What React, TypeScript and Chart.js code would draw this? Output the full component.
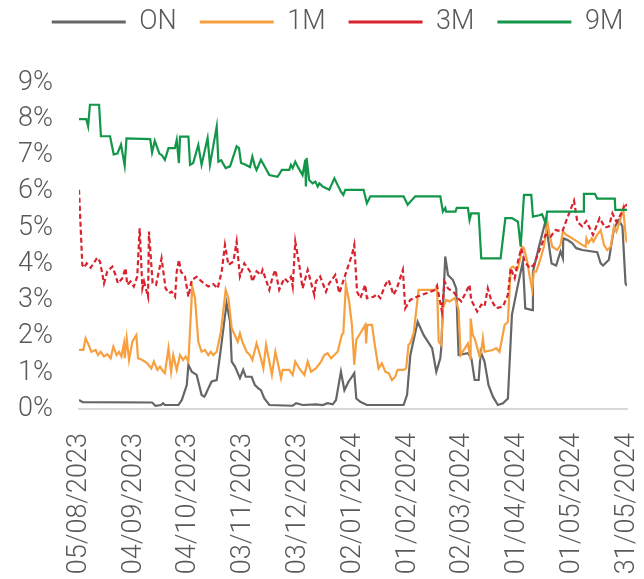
import React, { useEffect, useRef } from 'react';
import { Chart, registerables } from 'chart.js';

Chart.register(...registerables);

// x = days since 05/08/2023, y = rate in %
const TICK_LABELS = ['05/08/2023', '04/09/2023', '04/10/2023', '03/11/2023', '03/12/2023', '02/01/2024', '01/02/2024', '02/03/2024', '01/04/2024', '01/05/2024', '31/05/2024'];

const ON_POINTS: [number, number][] = [[0,0.25],[2,0.19],[40,0.18],[41.9,0.09],[44.9,0.11],[46,0.16],[47,0.11],[54.4,0.11],[56.3,0.25],[59,0.66],[59.9,1.22],[61.7,1.03],[64.4,0.94],[65.3,0.76],[67.1,0.39],[68.5,0.34],[69.2,0.39],[70.8,0.57],[72.6,0.76],[75.4,0.8],[77.7,1.68],[80.8,2.92],[82.7,2.41],[83.6,1.31],[85.4,1.17],[88.1,0.85],[89.9,1.08],[91.3,0.89],[94.5,0.89],[96.3,0.66],[98.2,0.57],[99.6,0.52],[101.4,0.3],[104.2,0.11],[117,0.09],[118.9,0.16],[122.4,0.11],[129.7,0.13],[133.4,0.11],[136.1,0.16],[138.9,0.13],[140.7,0.25],[142.1,0.66],[143.4,1.03],[145.3,0.52],[147.6,0.76],[149.4,0.89],[150.7,0.99],[151.8,0.29],[154,0.2],[157.6,0.11],[177.7,0.11],[179.6,0.39],[181.4,1.49],[185.4,2.41],[188.7,2.04],[193.3,1.68],[195.6,1.03],[197.8,1.4],[198.3,1.68],[200.5,4.21],[202,3.7],[204.7,3.56],[206.5,3.33],[207.8,1.49],[212.9,1.54],[214.8,1.4],[216.6,0.8],[218.8,0.8],[219.9,1.58],[222,1.31],[224.2,0.66],[226.6,0.34],[229.3,0.11],[232.1,0.16],[234.8,0.29],[237,2.6],[239.9,3.33],[243,4.07],[244.3,2.78],[248.1,2.73],[248.5,3.79],[249.6,4.02],[251.8,4.48],[255.4,5.19],[258.7,4.02],[261.2,3.96],[263.6,4.35],[264.9,4.16],[265.1,4.71],[267.3,4.67],[270,4.58],[272.2,4.44],[275.5,4.39],[283.7,4.33],[285.6,4.02],[286.9,3.96],[290.1,4.12],[292.9,4.99],[295.6,5.22],[297.5,5.04],[299.2,3.47],[300,3.4]];

const ONE_M_POINTS: [number, number][] = [[0,1.63],[2.4,1.63],[3.6,1.95],[4.9,1.81],[6.8,1.58],[9.1,1.63],[10.4,1.49],[11.9,1.58],[13.7,1.45],[15.5,1.51],[17.3,1.4],[18.8,1.72],[20.6,1.49],[21.9,1.58],[23.2,1.45],[24.6,1.81],[25,1.4],[26.1,1.95],[27.4,1.35],[29.2,1.86],[31.4,2.04],[32.3,1.4],[34.7,1.35],[37.4,1.26],[39.6,1.12],[41,1.31],[42.9,1.08],[44.3,1.17],[46.2,1.03],[47,0.99],[49,1.68],[50.4,1.03],[51.6,1.49],[53.5,1.08],[55.3,1.49],[57,1.35],[58.4,1.45],[59.9,1.31],[62,3.38],[63.5,3.06],[65.3,1.86],[67.1,1.58],[68.9,1.63],[70.8,1.49],[72.2,1.58],[73.5,1.49],[75.4,1.58],[77.7,2.14],[80.3,3.29],[81.8,3.06],[83.6,2.23],[86.9,1.86],[88.1,2.09],[89.4,1.86],[91.8,1.58],[93.6,1.49],[94.9,1.35],[97.2,1.81],[99.6,1.4],[100.9,1.12],[102.4,1.77],[104.2,1.31],[105.6,0.94],[107.5,1.58],[109.3,1.17],[110.6,0.85],[111.5,1.08],[115.1,1.08],[117,0.94],[118.4,1.31],[120.6,1.12],[123.4,0.94],[125.2,1.31],[127,1.03],[129.7,1.12],[132.5,1.31],[134.3,1.49],[136.1,1.54],[138,1.4],[139.8,1.49],[141.6,1.58],[144,2.06],[144.7,2.09],[146.1,3.43],[147.9,2.96],[149.4,2.32],[150.7,1.22],[151.8,1.91],[154,2.09],[156.7,2.32],[157.2,1.81],[157.8,2.32],[160.4,2.32],[162.2,1.68],[164,1.12],[165.8,1.26],[167.7,1.03],[169.5,0.99],[171.3,0.8],[173.1,0.89],[174.4,1.08],[177.7,1.08],[179.1,1.12],[180.4,1.77],[181.3,1.81],[183.2,2.09],[185.9,3.29],[195,3.29],[196,3.38],[196.9,1.86],[198.3,1.77],[199.2,2.78],[201,3.01],[202.9,2.97],[205.6,3.06],[206.5,2.97],[207.8,2.74],[208.9,1.49],[212.9,1.81],[214.2,1.4],[214.4,2.5],[215.6,2.04],[216.6,1.95],[219.3,1.45],[220.2,1.58],[221.1,1.95],[222,1.58],[226.6,1.63],[228.4,1.68],[230.2,1.58],[233,2.32],[234.8,2.41],[236.3,3.89],[237.5,3.93],[239.9,3.84],[241.2,4.07],[242.5,4.48],[243.6,4.44],[245.4,4.07],[246.7,3.66],[248.1,3.29],[249,3.79],[250.3,3.79],[252.7,4.16],[254.5,4.48],[256.4,5.17],[257.6,4.81],[259.1,4.48],[261.8,4.39],[263.6,4.53],[264.9,4.9],[266.7,4.81],[270,4.71],[272.8,4.62],[275.5,4.53],[277.4,4.48],[277.8,4.71],[278.9,4.58],[280.7,4.71],[281.6,4.62],[283.7,4.81],[285.6,4.94],[287.4,4.53],[289.2,4.39],[291.1,4.48],[292.9,5.04],[294.2,4.9],[296.1,5.17],[297.9,5.54],[299.4,4.71],[300,4.6]];

const THREE_M_POINTS: [number, number][] = [[0,6.05],[1.8,3.98],[2.7,3.9],[4.2,4.02],[6.4,3.9],[10,4.18],[11.5,4.07],[13.7,3.47],[15.5,3.8],[18.2,3.93],[20,3.7],[21.3,3.47],[23.6,3.6],[25.5,3.89],[26.4,3.43],[28.2,3.52],[30,3.38],[31.9,3.66],[33.2,4.99],[34.7,3.33],[35.6,3.52],[37.8,3.1],[38.3,4.9],[40.3,3.48],[42.2,3.43],[45.2,4.16],[47.4,3.33],[49.3,3.2],[50.7,3.24],[52.6,3.1],[53.5,3.79],[54.7,4.12],[55.8,3.79],[58,3.66],[59.9,3.1],[61.7,3.56],[64.4,3.65],[67.1,3.52],[70.8,3.38],[73.5,3.45],[75.9,3.33],[78.1,3.79],[79.9,4.53],[81.8,3.98],[84.5,4.07],[86.3,4.62],[88.1,3.66],[90.5,4.02],[93.6,3.8],[94.9,3.52],[97.2,3.8],[99.6,3.7],[100.5,3.84],[104.2,3.29],[106,3.65],[107.5,3.84],[109.6,3.29],[112.4,3.61],[114.2,3.52],[116,3.65],[117,3.38],[118.4,4.62],[120.6,3.98],[122.4,3.33],[125.2,3.84],[128.8,3.15],[129.7,3.52],[132,3.66],[135.2,3.24],[137,3.47],[140.3,3.7],[142.5,3.2],[147,3.89],[149.4,4.25],[150.7,4.53],[152.2,3.24],[154,3.06],[156.7,3.43],[157.6,3.06],[161.3,3.1],[163.1,3.17],[164.9,3.06],[167.7,3.43],[169.5,3.56],[172.2,3.15],[174,3.33],[177.3,3.84],[178.6,2.78],[181.3,3.01],[185,3.1],[190.5,3.2],[195,3.29],[196,3.4],[198.7,2.69],[200.1,3.52],[202,3.33],[205.6,3.2],[207.4,3.06],[209.3,2.97],[213.8,3.43],[214.7,3.01],[218,2.69],[220.2,2.88],[222,2.83],[223.8,3.33],[225.6,3.01],[228.4,2.78],[232.1,2.83],[234.8,3.15],[236.3,3.89],[238.5,3.61],[240.3,4.07],[242.1,4.44],[244,4.07],[246.7,3.89],[249,3.98],[251.8,4.35],[255.4,4.81],[258.2,4.76],[260.9,4.94],[264.6,4.9],[267.3,5.27],[271,5.75],[272.8,5.17],[275.5,5.04],[277.7,5.19],[281.4,4.81],[285,5.27],[288,5.01],[290.1,5.04],[292,5.4],[294.2,5.17],[296.5,5.36],[299.2,5.68],[300,5.6]];

const NINE_M_POINTS: [number, number][] = [[0,8.0],[4,8.0],[5,7.8],[6,8.4],[11,8.4],[12,7.53],[17,7.53],[19,7.03],[21,7.05],[23,7.3],[25,6.72],[26,7.47],[39,7.45],[40,7.08],[41.5,7.4],[44,7.05],[45.5,7.0],[47,6.88],[49,7.2],[52.5,7.2],[53.5,7.43],[54.7,6.79],[55.3,7.52],[59.9,7.52],[60.8,6.74],[62.5,6.79],[65.3,7.29],[67.1,6.74],[70.4,7.48],[71.7,6.74],[74.1,7.43],[75.4,7.8],[76.3,6.83],[77.8,6.87],[80.3,6.65],[82.7,6.7],[86.3,7.25],[87.6,7.2],[88.7,6.79],[90.9,6.75],[93.6,6.68],[94.9,6.97],[96.3,6.7],[97.2,6.6],[99.6,6.88],[104.2,6.46],[108.7,6.41],[111.1,6.6],[115.1,6.6],[116,6.74],[117,6.65],[118.4,6.83],[120.2,6.65],[122.4,6.46],[123.9,6.88],[124.2,6.14],[124.6,6.93],[126,6.32],[127.9,6.23],[129.4,6.28],[130.7,6.14],[131.6,6.23],[133.4,6.14],[137,6.05],[139.8,6.37],[141.6,6.18],[143.4,6.0],[144.7,5.91],[145.8,6.05],[155.8,6.05],[157.6,5.68],[159.5,5.87],[177.7,5.87],[179.9,5.64],[184.1,5.87],[197.8,5.87],[199.2,5.45],[200.5,5.55],[201,5.45],[206.1,5.45],[206.8,5.55],[212.9,5.55],[213.8,5.22],[214.7,5.4],[218.8,5.4],[220.2,4.16],[230.8,4.16],[233.4,5.27],[237,5.27],[240.3,5.17],[241.8,4.48],[243.6,5.91],[247.6,5.91],[248.5,5.31],[252,5.35],[253.5,5.38],[255.4,5.13],[256.3,5.45],[276,5.45],[276.4,5.94],[282.4,5.94],[283.7,5.81],[293.3,5.81],[293.6,5.5],[300,5.5]];

const GREY = '#666666';
const ORANGE = '#f7a040';
const RED = '#d9232e';
const GREEN = '#12964a';
const TEXT = '#595959';
const FONT_FAMILY = 'Roboto, "Open Sans", sans-serif';

export default function App() {
  const ref = useRef<HTMLCanvasElement>(null);

  useEffect(() => {
    const legendSpacer = {
      id: 'legendSpacer',
      beforeInit(chart: any) {
        const lg = chart.legend;
        if (!lg) return;
        const fit = lg.fit;
        lg.fit = function () {
          fit.call(this);
          this.height += 37.5;
        };
      },
      afterLayout(chart: any) {
        const lg = chart.legend;
        if (!lg) return;
        lg.left += 15.5;
        lg.right += 15.5;
      },
    };
    const toXY = (pts: [number, number][]) => pts.map(([x, y]) => ({ x, y }));
    const font = { family: FONT_FAMILY, size: 27, weight: 300 as any };
    const defaultLabels = Chart.defaults.plugins.legend.labels.generateLabels;

    const chart = new Chart(ref.current as HTMLCanvasElement, {
      type: 'line',
      data: {
        datasets: [
          { label: '9M', data: toXY(NINE_M_POINTS), borderColor: GREEN, backgroundColor: GREEN, borderWidth: 2.2 },
          { label: '3M', data: toXY(THREE_M_POINTS), borderColor: RED, backgroundColor: RED, borderWidth: 2.2, borderDash: [5, 3] },
          { label: '1M', data: toXY(ONE_M_POINTS), borderColor: ORANGE, backgroundColor: ORANGE, borderWidth: 2.2 },
          { label: 'ON', data: toXY(ON_POINTS), borderColor: GREY, backgroundColor: GREY, borderWidth: 2.2 },
        ],
      },
      options: {
        responsive: false,
        animation: false,
        devicePixelRatio: 1,
        elements: { point: { radius: 0 }, line: { tension: 0 } },
        layout: { padding: { top: -14.5, left: 0, right: 0, bottom: 0 } },
        plugins: {
          legend: {
            position: 'top',
            labels: {
              usePointStyle: true,
              pointStyle: 'line',
              pointStyleWidth: 74,
              padding: 23,
              color: TEXT,
              font,
              generateLabels: (c: any) =>
                defaultLabels(c).map((l: any) => ({ ...l, lineWidth: 3, lineDash: l.lineDash && l.lineDash.length ? [4, 2.5] : [] })),
              sort: (a: any, b: any) => b.datasetIndex - a.datasetIndex,
            },
          },
          tooltip: { enabled: false },
        },
        scales: {
          x: {
            type: 'linear',
            min: 0,
            max: 300,
            grid: { display: false, drawTicks: false },
            border: { display: true, color: '#d9d9d9', width: 2 },
            ticks: {
              stepSize: 30,
              autoSkip: false,
              maxRotation: 90,
              minRotation: 90,
              padding: 24,
              color: TEXT,
              font,
              callback: (v: any) => TICK_LABELS[Math.round(Number(v) / 30)] ?? '',
            },
            afterFit: (s: any) => {
              s.height = 170;
              s.paddingLeft = 0;
              s.paddingRight = 17;
            },
          },
          y: {
            min: 0,
            max: 9,
            grid: { display: false, drawTicks: false },
            border: { display: false },
            ticks: {
              stepSize: 1,
              autoSkip: false,
              padding: 26,
              color: TEXT,
              font,
              callback: (v: any) => `${v}%`,
            },
            afterFit: (s: any) => {
              s.width = 79;
              s.paddingTop = 0;
              s.paddingBottom = 0;
            },
          },
        },
      },
      plugins: [legendSpacer],
    });
    return () => chart.destroy();
  }, []);

  return (
    <div style={{ position: 'fixed', left: 0, top: 0, width: 644, height: 579, background: '#fff' }}>
      <canvas ref={ref} width={644} height={579} style={{ display: 'block', width: 644, height: 579 }} />
    </div>
  );
}
